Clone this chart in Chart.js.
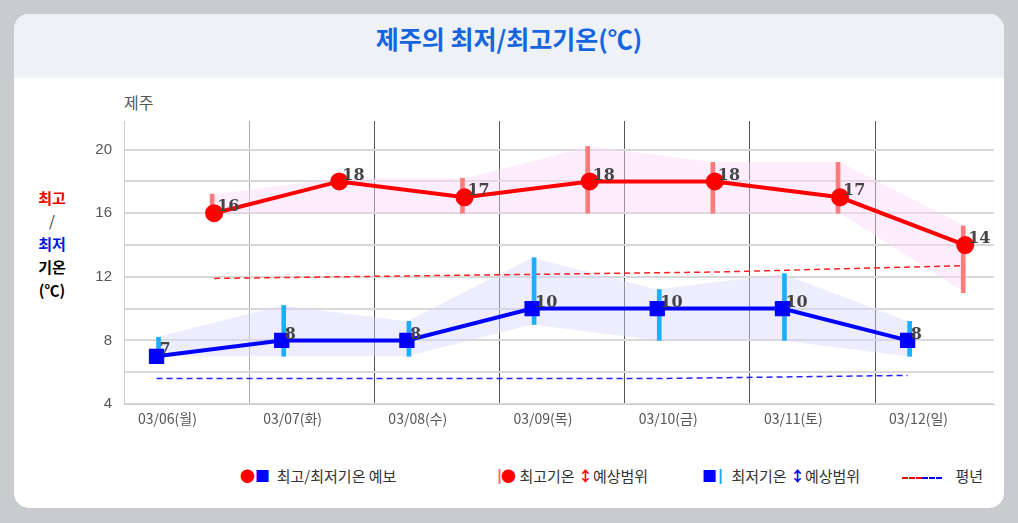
<!DOCTYPE html>
<html><head><meta charset="utf-8">
<script src="https://cdn.jsdelivr.net/npm/chart.js@4.4.0/dist/chart.umd.min.js"></script>
<style>
body{margin:0;width:1018px;height:523px;background:#c9cbcf;font-family:"Noto Sans CJK KR","Noto Sans",sans-serif;overflow:hidden}
#card{position:absolute;left:14px;top:14px;width:990px;height:494px;background:#fff;border-radius:15px;overflow:hidden}
#head{height:64px;background:#eef1f6;text-align:center;line-height:48px;font-size:25px;font-weight:bold;color:#1565e0}
#wrap{position:absolute;left:56px;top:86px;width:936px;height:340px}
.side{position:absolute;left:20px;top:172px;font-size:15px;font-weight:bold;text-align:center;line-height:23px;width:36px}
#city{position:absolute;left:110px;top:76px;font-size:16px;color:#555}
.lg{position:absolute;top:451px;font-size:15px;color:#333;white-space:nowrap}
.dash{display:inline-block;width:20px;border-top:2px dashed;vertical-align:middle}
</style></head><body>
<div id="card">
 <div id="head">제주의 최저/최고기온(℃)</div>
 <div id="city">제주</div>
 <div class="side"><span style="color:#e00">최고</span><br><span style="color:#333;font-weight:normal">/</span><br><span style="color:#0019d6">최저</span><br>기온<br>(℃)</div>
 <div id="wrap"><canvas id="chart1"></canvas></div>
 <div class="lg" style="left:226px"><b style="color:#f00">●</b><b style="color:#00f">■</b>&nbsp; 최고/최저기온 예보</div>
 <div class="lg" style="left:478px"><b style="color:#f66">┃</b><b style="color:#f00;margin-left:-6px">●</b> 최고기온 <b style="color:#f00">↕</b>예상범위</div>
 <div class="lg" style="left:688px"><b style="color:#00f">■</b><b style="color:#1aa3ff;margin-left:-4px">┃</b> 최저기온 <b style="color:#00f">↕</b>예상범위</div>
 <div class="lg" style="left:888px"><span class="dash" style="color:#f00"></span><span class="dash" style="color:#00f"></span>&nbsp;&nbsp;&nbsp; 평년</div>
</div>
<script>
const days = ['03/06(월)', '03/07(화)', '03/08(수)', '03/09(목)', '03/10(금)', '03/11(토)', '03/12(일)'];
const maxTemp = [16, 18, 17, 18, 18, 17, 14];
const minTemp = [7, 8, 8, 10, 10, 10, 8];
const maxRangeLo = [16, 16, 16, 16, 16, 16, 11];
const maxRangeHi = [17.2, 18.2, 18.2, 20.2, 19.2, 19.2, 15.2];
const maxBarShown = [true, false, true, true, true, true, true];
const minRangeLo = [7, 7, 7, 9, 8, 8, 7];
const minRangeHi = [8.2, 10.2, 9.2, 13.2, 11.2, 12.2, 9.2];
const normalMax = [11.9, 12.0, 12.1, 12.2, 12.3, 12.5, 12.7];
const normalMin = [5.6, 5.6, 5.6, 5.6, 5.6, 5.7, 5.8];
const MAX_OFF = 0.72, MIN_OFF = 0.26;

const pts = (arr, off) => arr.map((v, i) => ({ x: i + off, y: v }));
const band = (arr, off, color, fill) => ({
    type: 'line', data: pts(arr, off), borderWidth: 0, pointRadius: 0,
    backgroundColor: color, fill: fill, order: 5
});

const labelPlugin = {
    id: 'labels',
    afterDatasetsDraw(chart) {
        const ctx = chart.ctx, xs = chart.scales.x, ys = chart.scales.y;
        ctx.save();
        ctx.font = 'bold 16px "DejaVu Serif"';
        ctx.fillStyle = '#444';
        ctx.textBaseline = 'bottom';
        maxTemp.forEach((v, i) => ctx.fillText(v, xs.getPixelForValue(i + MAX_OFF) + 3, ys.getPixelForValue(v) + 2));
        minTemp.forEach((v, i) => ctx.fillText(v, xs.getPixelForValue(i + MIN_OFF) + 3, ys.getPixelForValue(v) + 2));
        ctx.restore();
    }
};

new Chart(document.getElementById('chart1').getContext('2d'), {
    data: {
        datasets: [
            band(maxRangeHi, MAX_OFF, 'rgba(250,215,250,0.45)', false),
            band(maxRangeLo, MAX_OFF, 'rgba(250,215,250,0.45)', '-1'),
            band(minRangeHi, MIN_OFF, 'rgba(215,215,250,0.45)', false),
            band(minRangeLo, MIN_OFF, 'rgba(215,215,250,0.45)', '-1'),
            { type: 'bar', data: maxRangeLo.map((v, i) => ({ x: i + MAX_OFF, y: maxBarShown[i] ? [v, maxRangeHi[i]] : null })),
              backgroundColor: '#ff7b7b', barThickness: 4, order: 3 },
            { type: 'bar', data: minRangeLo.map((v, i) => ({ x: i + MIN_OFF, y: [v, minRangeHi[i]] })),
              backgroundColor: '#1ab0ff', barThickness: 4, order: 3 },
            { type: 'line', data: pts(normalMax, MAX_OFF), borderColor: '#f22', borderWidth: 1.5, borderDash: [6, 4], pointRadius: 0, order: 4 },
            { type: 'line', data: pts(normalMin, MIN_OFF), borderColor: '#22f', borderWidth: 1.5, borderDash: [6, 4], pointRadius: 0, order: 4 },
            { type: 'line', data: pts(maxTemp, MAX_OFF), borderColor: '#f00', backgroundColor: '#f00', borderWidth: 4,
              pointRadius: 7, pointStyle: 'circle', order: 1 },
            { type: 'line', data: pts(minTemp, MIN_OFF), borderColor: '#00f', backgroundColor: '#00f', borderWidth: 4,
              pointRadius: 8, pointStyle: 'rect', order: 1 }
        ]
    },
    options: {
        responsive: true, maintainAspectRatio: false, animation: false,
        layout: { padding: { top: 0, right: 0 } },
        plugins: { legend: { display: false }, tooltip: { enabled: false } },
        scales: {
            x: {
                type: 'linear', min: 0, max: 6.95, offset: false,
                afterBuildTicks: s => { s.ticks = days.map((d, i) => ({ value: i })); },
                afterFit: s => { s.height = 36; },
                grid: { offset: false, color: (c) => c.index === 0 ? '#ccc' : (c.index === 1 ? '#aaa' : '#555'), drawTicks: false },
                border: { color: '#ccc' },
                ticks: {
                    color: '#555', font: { size: 14, family: 'Noto Sans CJK KR' }, padding: 6,
                    align: 'start', labelOffset: 14,
                    callback: v => days[v] !== undefined ? days[v] : ''
                }
            },
            y: {
                min: 4, max: 21.8,
                afterBuildTicks: s => { s.ticks = [4, 6, 8, 10, 12, 14, 16, 18, 20].map(v => ({ value: v })); },
                afterFit: s => { s.width = 54; },
                grid: { color: '#d8d8d8', lineWidth: 2, drawTicks: false },
                border: { color: '#ccc' },
                ticks: { color: '#555', font: { size: 15 }, padding: 12, callback: v => v % 4 === 0 ? v : '' }
            }
        }
    },
    plugins: [labelPlugin]
});
</script>
</body></html>
